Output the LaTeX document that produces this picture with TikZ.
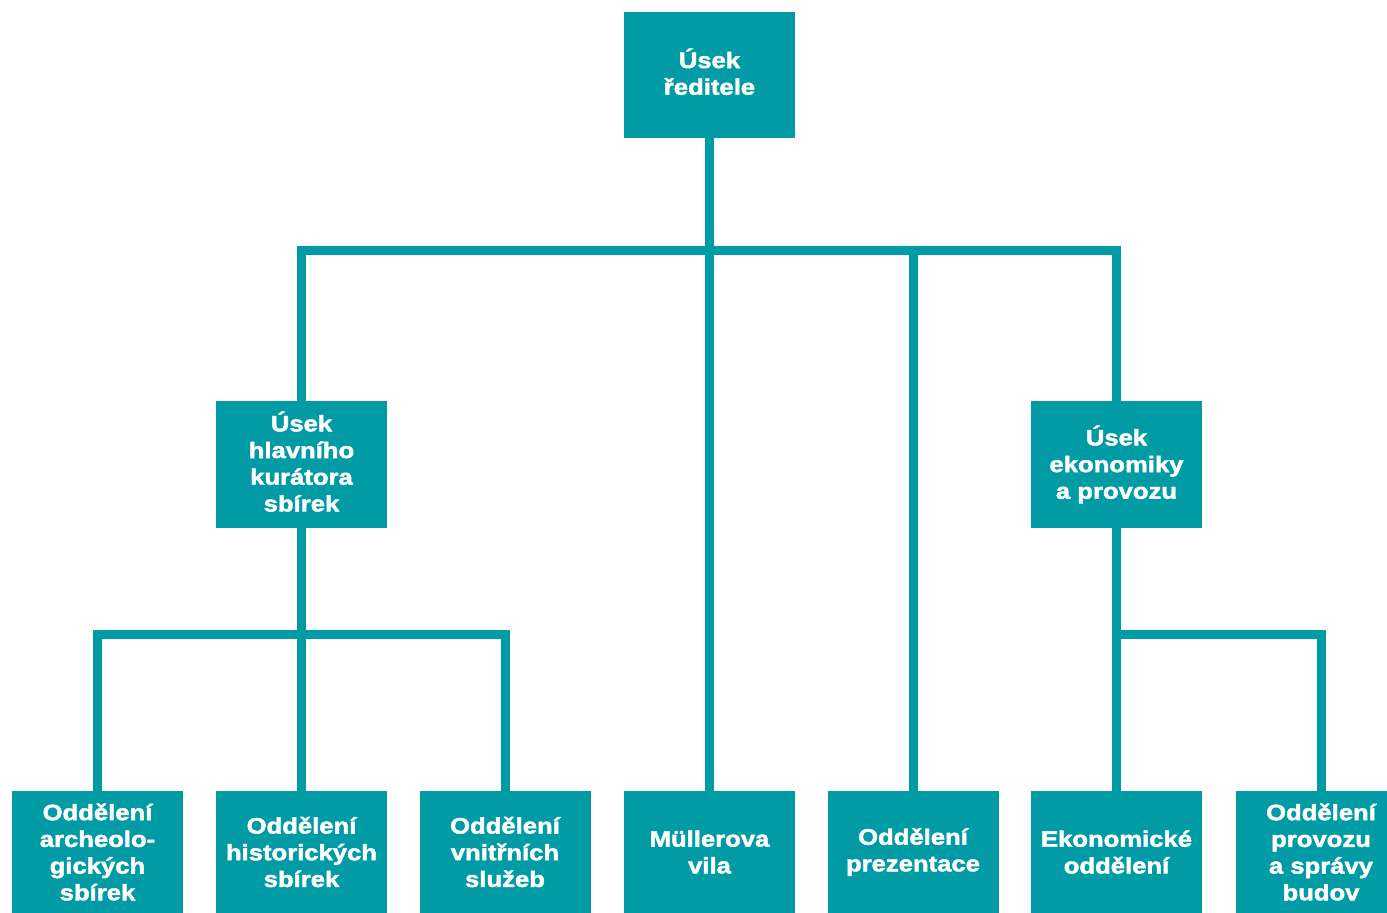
\documentclass[tikz,border=0pt]{standalone}
\usepackage{fontspec}
\setmainfont{Liberation Sans}[FakeStretch=1.15,BoldFeatures={FakeBold=2}]
\definecolor{teal1}{HTML}{009BA5}
\begin{document}
\begin{tikzpicture}[x=1pt,y=-1pt,
  box/.style={rectangle, fill=teal1, text=white, inner sep=0pt, align=center,
    minimum width=171pt, minimum height=126pt,
    font=\bfseries\fontsize{22.3}{26.7}\selectfont},
  lowbox/.style={box, minimum height=122pt},
  conn/.style={draw=teal1, line width=9pt, line join=miter}]
\useasboundingbox (0,0) rectangle (1387,913);
\coordinate (bus) at (709,250);
\coordinate (busL) at (300,634);
\coordinate (busR) at (1117,634);
% boxes
\node[box] (top) at (709.5,74.5) {Úsek\\ředitele\\[-20.7pt]};
\node[box, minimum height=127pt] (hk) at (301.5,464.5) {Úsek\\hlavního\\kurátora\\sbírek\\[-20.7pt]};
\node[box, minimum height=127pt] (ek) at (1116.5,464.5) {Úsek\\ekonomiky\\a provozu};
\node[lowbox] (arch) at (97.5,852) {Oddělení\\archeolo-\\gických\\sbírek};
\node[lowbox] (hist) at (301.5,852) {Oddělení\\historických\\sbírek};
\node[lowbox] (vnit) at (505,852) {Oddělení\\vnitřních\\služeb};
\node[lowbox] (mull) at (709.5,852) {Müllerova\\vila};
\node[lowbox] (prez) at (913,852) {Oddělení\\prezentace};
\node[lowbox] (ekon) at (1116.5,852) {Ekonomické\\oddělení};
\node[lowbox] (prov) at (1321,852) {Oddělení\\provozu\\a správy\\budov};
% connectors
\draw[conn] (top.south) -- (mull.north);
\draw[conn] (hk.north) |- (bus) -| (ek.north);
\draw[conn] (bus) -| (prez.north);
\draw[conn] (hk.south) -- (hist.north);
\draw[conn] (arch.north) |- (busL) -| (vnit.north);
\draw[conn] (ek.south) -- (ekon.north);
\draw[conn] (busR) -| (prov.north);
\end{tikzpicture}
\end{document}
